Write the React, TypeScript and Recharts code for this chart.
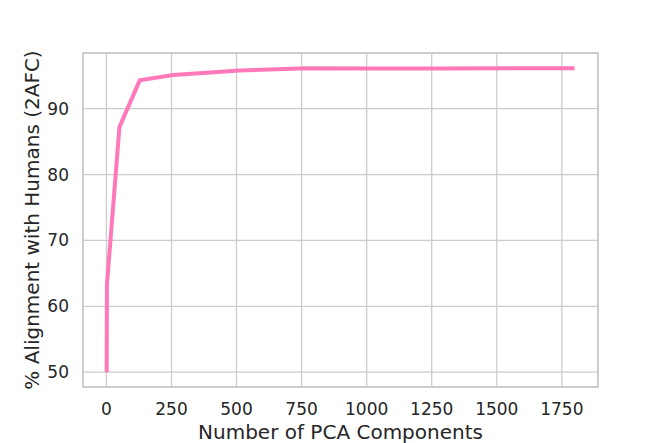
import React from "react";
import {
  LineChart,
  Line,
  XAxis,
  YAxis,
  CartesianGrid,
  ReferenceArea
} from "recharts";

// values
const components = [1, 2, 50, 128, 256, 512, 768, 1024, 1280, 1536, 1799];
const alignment = [50.0, 63.3, 87.2, 94.3, 95.1, 95.8, 96.15, 96.1, 96.1, 96.12, 96.15];

const xTicks = [0, 250, 500, 750, 1000, 1250, 1500, 1750];
const yTicks = [50, 60, 70, 80, 90];

const xDomain = [-90, 1889];
const yDomain = [47.75, 98.45];

const textColor = "#262626";
const gridColor = "#cccccc";
const lineColor = "#ff78b9";
const font = "'DejaVu Sans', sans-serif";

const data = components.map((c, i) => ({ n: c, value: alignment[i] }));

function YLabel(props: any) {
  const { viewBox } = props;
  const cx = 32;
  const cy = viewBox.y + viewBox.height / 2;
  return (
    <text
      x={cx}
      y={cy}
      transform={`rotate(-90 ${cx} ${cy})`}
      textAnchor="middle"
      dominantBaseline="central"
      fill={textColor}
      fontSize={20}
      fontFamily={font}
    >
      % Alignment with Humans (2AFC)
    </text>
  );
}

function XLabel(props: any) {
  const { viewBox } = props;
  const cx = viewBox.x + viewBox.width / 2;
  return (
    <text
      x={cx}
      y={439}
      textAnchor="middle"
      fill={textColor}
      fontSize={20}
      fontFamily={font}
    >
      Number of PCA Components
    </text>
  );
}

export default function App() {
  const tickStyle = { fill: textColor, fontSize: 17, fontFamily: font };
  return (
    <div style={{ position: "absolute", left: 0, top: 0, background: "#fff" }}>
      <LineChart
        width={664}
        height={443}
        data={data}
        margin={{ top: 53, right: 66, left: 0, bottom: 0 }}
      >
        <CartesianGrid stroke={gridColor} strokeWidth={1.3} />
        <XAxis
          dataKey="n"
          type="number"
          domain={xDomain}
          ticks={xTicks}
          allowDataOverflow
          axisLine={false}
          tickLine={false}
          tickSize={0}
          tickMargin={16}
          height={56}
          tick={tickStyle}
          interval={0}
          label={<XLabel />}
        />
        <YAxis
          type="number"
          domain={yDomain}
          ticks={yTicks}
          allowDataOverflow
          axisLine={false}
          tickLine={false}
          tickSize={0}
          tickMargin={14}
          width={83}
          tick={tickStyle}
          interval={0}
          label={<YLabel />}
        />
        <ReferenceArea
          x1={xDomain[0]}
          x2={xDomain[1]}
          y1={yDomain[0]}
          y2={yDomain[1]}
          fill="none"
          fillOpacity={0}
          stroke={gridColor}
          strokeWidth={1.8}
        />
        <Line
          type="linear"
          dataKey="value"
          stroke={lineColor}
          strokeWidth={4}
          dot={false}
          activeDot={false}
          isAnimationActive={false}
        />
      </LineChart>
    </div>
  );
}
